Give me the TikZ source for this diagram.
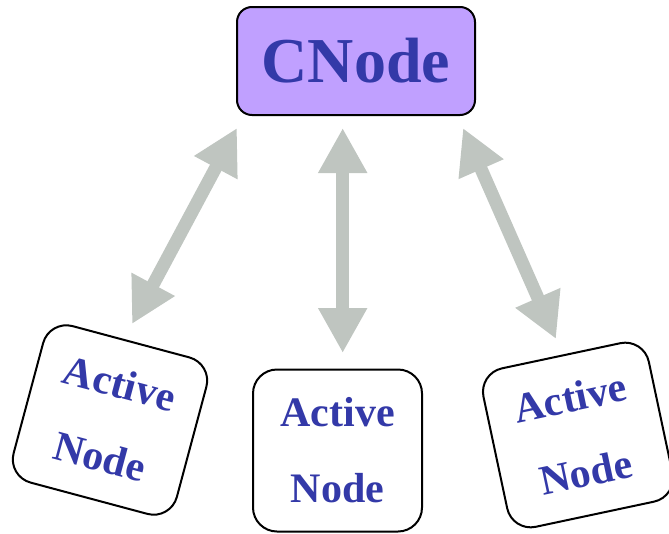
\documentclass[tikz,border=0pt]{standalone}
\usepackage{fontspec}
\setmainfont{Liberation Serif}
\usetikzlibrary{arrows.meta}
\definecolor{cnodefill}{HTML}{C0A0FF}
\definecolor{labelblue}{HTML}{3339A8}
\definecolor{linkgrey}{HTML}{BFC5C0}
\tikzset{
  cnodebox/.style={draw=black, line width=2pt, fill=cnodefill, rounded corners=15pt,
    minimum width=238pt, minimum height=108pt, inner sep=0pt,
    text=labelblue, font=\fontsize{64}{70}\selectfont\bfseries},
  activebox/.style={draw=black, line width=2pt, fill=white, rounded corners=24pt,
    minimum width=169pt, minimum height=162pt, inner sep=0pt, align=center,
    text=labelblue, font=\fontsize{42}{76}\selectfont\bfseries},
  link/.style={draw=linkgrey, line width=13pt,
    {Triangle[length=45pt,width=46pt]}-{Triangle[length=45pt,width=46pt]}}
}
\begin{document}
\begin{tikzpicture}[x=1pt,y=-1pt]
  \useasboundingbox (0,0) rectangle (669,533);
  % central node
  \node[cnodebox] (cnode) at (356,61) {CNode};
  % active nodes
  \node[activebox, rotate=-15] (actL) at (110,420) {Active\\Node};
  \node[activebox] (actM) at (337.5,450.5) {Active\\Node};
  \node[activebox, rotate=12] (actR) at (578,435) {Active\\Node};
  % arrow end points
  \coordinate (lTop) at (237,128);
  \coordinate (lBot) at (132,324);
  \coordinate (mTop) at (342.7,128);
  \coordinate (mBot) at (342.7,353);
  \coordinate (rTop) at (463,128);
  \coordinate (rBot) at (556,339);
  % links
  \draw[link] (lTop) -- (lBot);
  \draw[link] (mTop) -- (mBot);
  \draw[link] (rTop) -- (rBot);
\end{tikzpicture}
\end{document}
